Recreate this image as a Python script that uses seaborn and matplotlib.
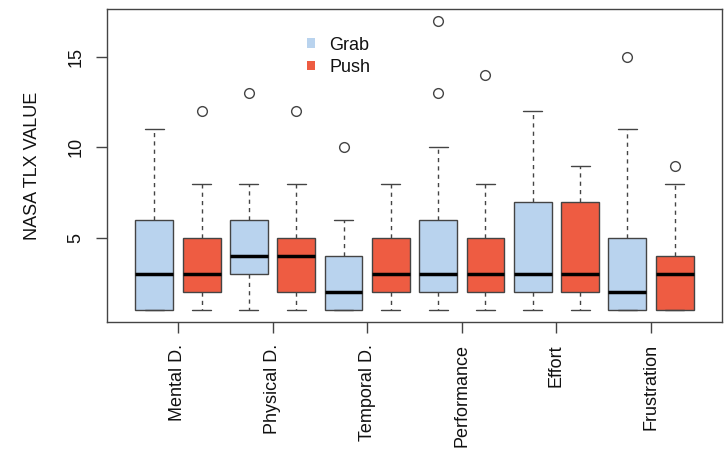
"""
plot.py
-------
NASA TLX boxplots (Grab vs Push) in R base-graphics style.
"""

import matplotlib
matplotlib.use('Agg')
import matplotlib.pyplot as plt
from matplotlib.patches import Patch
import pandas as pd
import seaborn as sns

# ── Data (five-number summaries) ─────────────────────────────────────────────
categories = ["Mental D.", "Physical D.", "Temporal D.",
              "Performance", "Effort", "Frustration"]
groups = ["Grab", "Push"]

# [whisker low, Q1, median, Q3, whisker high]
grab_stats = [[1, 1, 3, 6, 11],
              [1, 3, 4, 6, 8],
              [1, 1, 2, 4, 6],
              [1, 2, 3, 6, 10],
              [1, 2, 3, 7, 12],
              [1, 1, 2, 5, 11]]
grab_outliers = [[], [13], [10], [13, 17], [], [15]]

push_stats = [[1, 2, 3, 5, 8],
              [1, 2, 4, 5, 8],
              [1, 2, 3, 5, 8],
              [1, 2, 3, 5, 8],
              [1, 2, 3, 7, 9],
              [1, 1, 3, 4, 8]]
push_outliers = [[12], [12], [], [14], [], [9]]

colors = {"Grab": "#B9D3EE", "Push": "#EE5C42"}   # slategray2 / tomato2


# ── Sample of 17 points reproducing a summary exactly ───────────────────────
def sample_from_stats(stats, outliers):
    lo, q1, med, q3, hi = stats
    k = len(outliers)
    return [lo] + [q1] * 4 + [med] * 4 + [q3] * 4 + [hi] * (4 - k) + list(outliers)


rows = []
for group, stats_list, out_list in [("Grab", grab_stats, grab_outliers),
                                    ("Push", push_stats, push_outliers)]:
    for cat, st, out in zip(categories, stats_list, out_list):
        for v in sample_from_stats(st, out):
            rows.append({"dimension": cat, "group": group, "value": v})
df = pd.DataFrame(rows)

# ── Figure ───────────────────────────────────────────────────────────────────
sns.set_theme(style="white")
plt.rcParams['font.family'] = ['Liberation Sans', 'DejaVu Sans']
plt.rcParams['font.size'] = 13
plt.rcParams['text.color'] = '#111111'
plt.rcParams['axes.labelcolor'] = '#111111'
plt.rcParams['xtick.color'] = '#111111'
plt.rcParams['ytick.color'] = '#111111'

line_col = "#444444"
fig = plt.figure(figsize=(7.24, 4.49), dpi=100)
ax = fig.add_axes([107 / 724, 1 - 322 / 449, 615 / 724, 313 / 449])

sns.boxplot(data=df, x="dimension", y="value", hue="group",
            order=categories, hue_order=groups, palette=colors,
            dodge=True, width=1.0, gap=0.2, saturation=1,
            linecolor=line_col, linewidth=1, legend=False, ax=ax,
            whiskerprops=dict(linestyle=(0, (3, 3)), color=line_col, linewidth=1),
            capprops=dict(color=line_col, linewidth=1),
            medianprops=dict(color="black", linewidth=2.5),
            flierprops=dict(marker="o", markerfacecolor="none",
                            markeredgecolor=line_col, markersize=7,
                            markeredgewidth=1))

ax.set_xlim(-0.75, 5.75)
ax.set_ylim(0.36, 17.64)
ax.set_yticks([5, 10, 15])
ax.set_xlabel("")
ax.set_ylabel("NASA TLX VALUE", fontsize=13)
ax.yaxis.set_label_coords(-0.108, 0.5)

for s in ax.spines.values():
    s.set_visible(True)
    s.set_color(line_col)
    s.set_linewidth(1)

ax.tick_params(axis='both', direction='out', length=8, width=1,
               color=line_col, labelsize=13, left=True, bottom=True)
ax.tick_params(axis='x', labelrotation=90, pad=8)
ax.tick_params(axis='y', labelrotation=90, pad=8)
for lab in ax.get_yticklabels():
    lab.set_va('center')
for lab in ax.get_xticklabels():
    lab.set_va('top')

handles = [Patch(facecolor=colors[g], edgecolor='none') for g in groups]
ax.legend(handles, groups, loc='upper left', bbox_to_anchor=(0.325, 0.912),
          frameon=False, borderpad=0, borderaxespad=0,
          handlelength=0.45, handleheight=0.45, handletextpad=0.8,
          labelspacing=0.3, fontsize=13)

plt.savefig("out.png", dpi=100)
plt.close()
